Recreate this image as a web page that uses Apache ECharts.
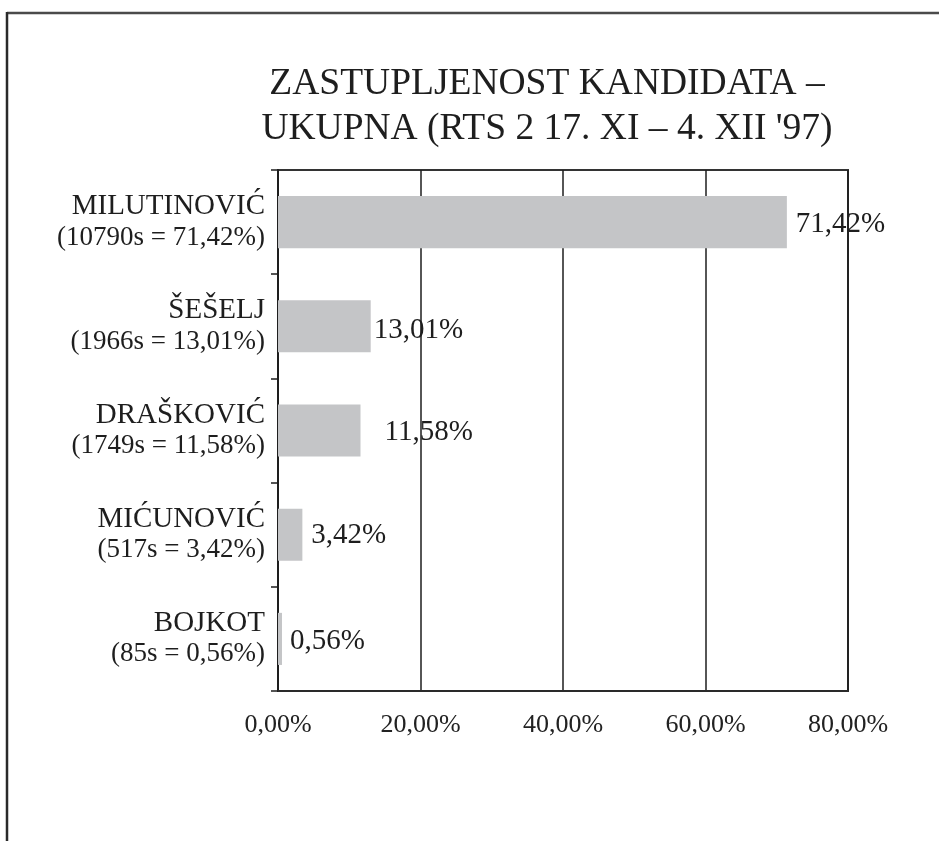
<!DOCTYPE html>
<html>
<head>
<meta charset="utf-8">
<title>Zastupljenost kandidata</title>
<script src="https://cdn.jsdelivr.net/npm/echarts@6/dist/echarts.min.js"></script>
<style>
  html, body { margin: 0; padding: 0; background: #ffffff; }
  #chart { width: 939px; height: 841px; }
</style>
</head>
<body>
<div id="chart"></div>
<script>
// Candidates, airtime in seconds and share of total airtime (%)
const categories = ['MILUTINOVIĆ', 'ŠEŠELJ', 'DRAŠKOVIĆ', 'MIĆUNOVIĆ', 'BOJKOT'];
const seconds = [10790, 1966, 1749, 517, 85];
const shares = [71.42, 13.01, 11.58, 3.42, 0.56];
const xTicks = [0, 20, 40, 60, 80];

const titleText = 'ZASTUPLJENOST KANDIDATA –\nUKUPNA (RTS 2 17. XI – 4. XII \'97)';

const FONT = '"Liberation Serif", "Times New Roman", serif';
const pct = v => v.toFixed(2).replace('.', ',') + '%';

// label placement tweaks per bar (distance from bar end, vertical nudge)
const labelTweak = [
  { distance: 9, dy: 2 },
  { distance: 3, dy: 4 },
  { distance: 24, dy: 2 },
  { distance: 9, dy: 1 },
  { distance: 8, dy: 2 }
];

const catLabels = categories.map((c, i) => '{n|' + c + '}\n{s|(' + seconds[i] + 's = ' + pct(shares[i]) + ')}');

const chart = echarts.init(document.getElementById('chart'), null, { renderer: 'canvas' });

chart.setOption({
  backgroundColor: '#ffffff',
  animation: false,
  title: {
    text: titleText,
    left: 542,
    top: 57,
    textAlign: 'center',
    textStyle: {
      fontFamily: FONT,
      fontWeight: 'normal',
      fontSize: 37.5,
      lineHeight: 45,
      color: '#1e1e1e'
    }
  },
  graphic: [
    { type: 'line', shape: { x1: 7, y1: 13, x2: 939, y2: 13 }, style: { stroke: '#4a4a4a', lineWidth: 2.5 } },
    { type: 'line', shape: { x1: 7, y1: 12, x2: 7, y2: 841 }, style: { stroke: '#2a2a2a', lineWidth: 2.5 } }
  ],
  grid: {
    left: 278,
    right: 91,
    top: 170,
    bottom: 150,
    show: true,
    borderColor: '#333333',
    borderWidth: 2,
    containLabel: false
  },
  xAxis: {
    type: 'value',
    min: xTicks[0],
    max: xTicks[xTicks.length - 1],
    interval: xTicks[1] - xTicks[0],
    axisLine: { show: true, lineStyle: { color: '#2a2a2a', width: 2 } },
    axisTick: { show: false },
    splitLine: { show: true, lineStyle: { color: '#1e1e1e', width: 1.5 } },
    axisLabel: {
      margin: 21,
      fontFamily: FONT,
      fontSize: 26,
      color: '#222222',
      formatter: v => pct(v)
    }
  },
  yAxis: {
    type: 'category',
    inverse: true,
    data: catLabels,
    axisLine: { show: true, lineStyle: { color: '#1e1e1e', width: 2 } },
    axisTick: { show: true, length: 7, lineStyle: { color: '#1e1e1e', width: 1.5 } },
    splitLine: { show: false },
    axisLabel: {
      margin: 13,
      align: 'right',
      color: '#1e1e1e',
      rich: {
        n: { fontFamily: FONT, fontSize: 29, lineHeight: 31, color: '#1e1e1e', align: 'right' },
        s: { fontFamily: FONT, fontSize: 27, lineHeight: 31, color: '#1e1e1e', align: 'right' }
      }
    }
  },
  series: [{
    type: 'bar',
    barWidth: '50%',
    data: shares.map((v, i) => ({
      value: v,
      label: { distance: labelTweak[i].distance, offset: [0, labelTweak[i].dy] }
    })),
    itemStyle: { color: '#c4c5c7' },
    label: {
      show: true,
      position: 'right',
      fontFamily: FONT,
      fontSize: 29,
      color: '#1e1e1e',
      formatter: p => pct(p.value)
    }
  }]
});
</script>
</body>
</html>
